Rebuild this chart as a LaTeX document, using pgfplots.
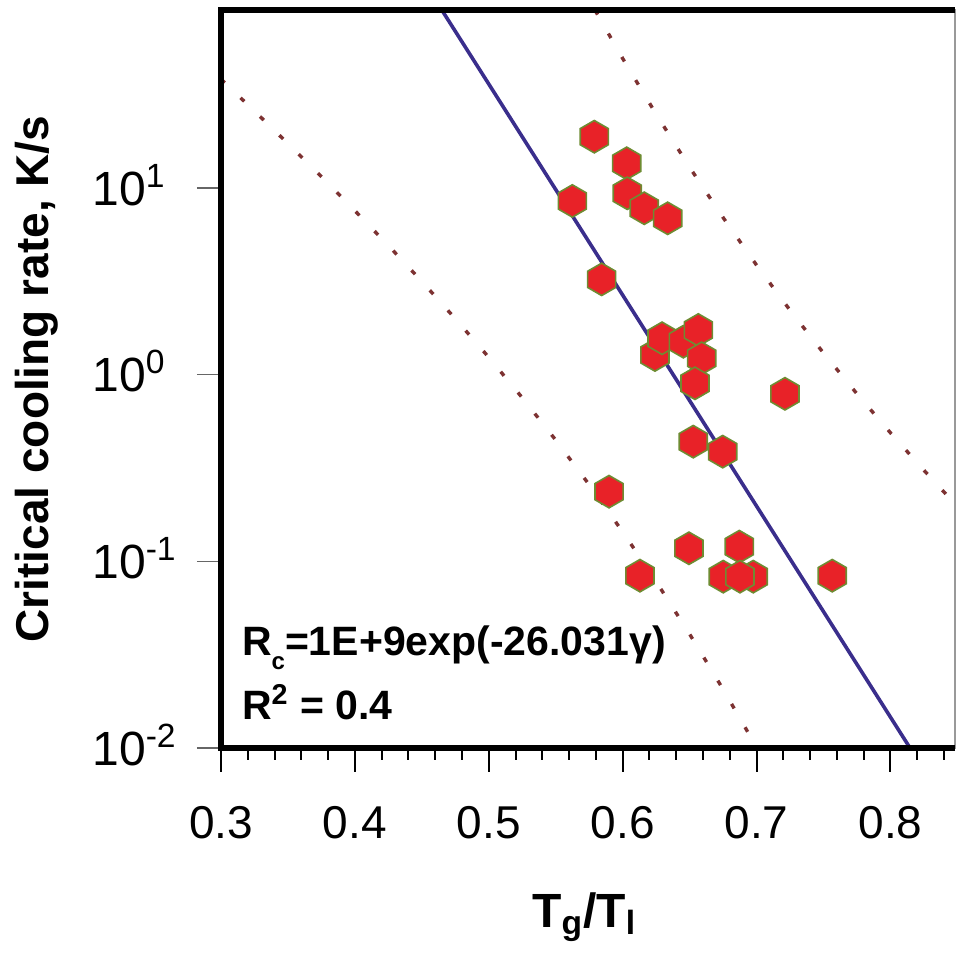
\documentclass[border=0pt]{standalone}
\usepackage{fontspec}
\setmainfont{Liberation Sans}
\usepackage{pgfplots}
\pgfplotsset{compat=1.18}
\definecolor{ptred}{RGB}{232,34,40}
\definecolor{ptedge}{RGB}{110,140,50}
\definecolor{fitblue}{RGB}{58,46,140}
\definecolor{banddot}{RGB}{125,50,50}
\pgfdeclareplotmark{hexagon}{%
  \pgfpathmoveto{\pgfpointpolar{90}{\pgfplotmarksize}}%
  \pgfpathlineto{\pgfpointpolar{150}{\pgfplotmarksize}}%
  \pgfpathlineto{\pgfpointpolar{210}{\pgfplotmarksize}}%
  \pgfpathlineto{\pgfpointpolar{270}{\pgfplotmarksize}}%
  \pgfpathlineto{\pgfpointpolar{330}{\pgfplotmarksize}}%
  \pgfpathlineto{\pgfpointpolar{30}{\pgfplotmarksize}}%
  \pgfpathclose
  \pgfusepathqfillstroke}
\begin{document}
\begin{tikzpicture}
\useasboundingbox (-110.5pt,-102.5pt) rectangle (367.5pt,374pt);
\begin{axis}[
  at={(0,0)}, anchor=south west,
  scale only axis, width=367pt, height=369pt,
  xmin=0.3, xmax=0.8482, ymode=log, ymin=0.01, ymax=89.8,
  xtick={0.3,0.4,0.5,0.6,0.7,0.8},
  xticklabels={0.3,0.4,0.5,0.6,0.7,0.8},
  minor xtick={0.32,0.34,0.36,0.38,0.42,0.44,0.46,0.48,0.52,0.54,0.56,0.58,0.62,0.64,0.66,0.68,0.72,0.74,0.76,0.78,0.82,0.84},
  ytick={0.01,0.1,1,10},
  yticklabels={10\textsuperscript{-2},10\textsuperscript{-1},10\textsuperscript{0},10\textsuperscript{1}},
  yminorticks=false,
  tick align=outside, xtick pos=bottom, ytick pos=left,
  major tick length=12pt, minor tick length=6pt,
  xtick style={black, line width=1pt},
  ytick style={black!60, line width=0.7pt},
  axis line style={black!40, line width=0.8pt},
  xticklabel style={font=\fontsize{23}{27}\selectfont, anchor=north, inner sep=0pt, yshift=-17pt},
  yticklabel style={font=\fontsize{24}{28}\selectfont, anchor=base west, inner sep=0pt, xshift=-52.5pt, yshift=-8.6pt},
  xlabel={T\textsubscript{g}/T\textsubscript{l}},
  xlabel style={font=\bfseries\fontsize{24}{28}\selectfont, at={(axis description cs:0.495,-0.1951)}, anchor=north, inner sep=0pt},
  ylabel={Critical cooling rate, K/s},
  ylabel style={font=\bfseries\fontsize{23}{27}\selectfont, at={(axis description cs:-0.2807,0.5)}, anchor=north, inner sep=0pt},
  clip=true,
]
% prediction bands
\addplot[banddot, line width=1.7pt, dash pattern=on 2.6pt off 10.9pt] coordinates {
(0.30,38.28) (0.325,25.82) (0.35,17.29) (0.375,11.49) (0.40,7.557) (0.425,4.918) (0.45,3.157) (0.475,1.995) (0.50,1.238) (0.525,0.7523) (0.55,0.4461) (0.575,0.2572) (0.60,0.1439) (0.625,0.07790) (0.65,0.04077) (0.675,0.02063) (0.70,0.01010) (0.725,0.004795)};
\addplot[banddot, line width=1.7pt, dash pattern=on 2.6pt off 10.9pt] coordinates {
(0.55,215) (0.575,101.6) (0.60,49.4) (0.625,24.84) (0.65,12.91) (0.675,6.943) (0.70,3.860) (0.725,2.213) (0.75,1.305) (0.775,0.7893) (0.80,0.4880) (0.825,0.3074) (0.85,0.1966)};
% fit line
\addplot[fitblue, line width=1.8pt] coordinates {(0.45,132.4) (0.83,0.0067)};
% data
\addplot[only marks, mark=hexagon, mark size=8.1pt, mark options={fill=ptred, draw=ptedge, line width=0.8pt}] coordinates {
(0.5788,18.83) (0.6030,13.56) (0.5624,8.52) (0.6034,9.37) (0.6161,7.79) (0.6336,6.88)
(0.5843,3.24) (0.6241,1.275) (0.6294,1.567) (0.6453,1.502) (0.6565,1.735) (0.6590,1.224)
(0.6540,0.899) (0.7212,0.79) (0.6527,0.4377) (0.6747,0.387) (0.5898,0.2362)
(0.6495,0.1175) (0.6871,0.1199) (0.6129,0.0838) (0.6751,0.0828) (0.6975,0.0828)
(0.6876,0.0828) (0.7565,0.0838)};
\node[anchor=base west, inner sep=0pt, font=\bfseries\fontsize{20.5}{24}\selectfont] at (axis description cs:0.0282,0.126) {R\raisebox{-7pt}{\fontsize{12}{12}\selectfont c}=1E+9exp(-26.031γ)};
\node[anchor=base west, inner sep=0pt, font=\bfseries\fontsize{20.5}{24}\selectfont] at (axis description cs:0.0282,0.038) {R\textsuperscript{2} = 0.4};
\end{axis}
\draw[line width=3pt, line join=miter] (current axis.north east) -- (current axis.north west) -- (current axis.south west) -- (current axis.south east);
\end{tikzpicture}
\end{document}
